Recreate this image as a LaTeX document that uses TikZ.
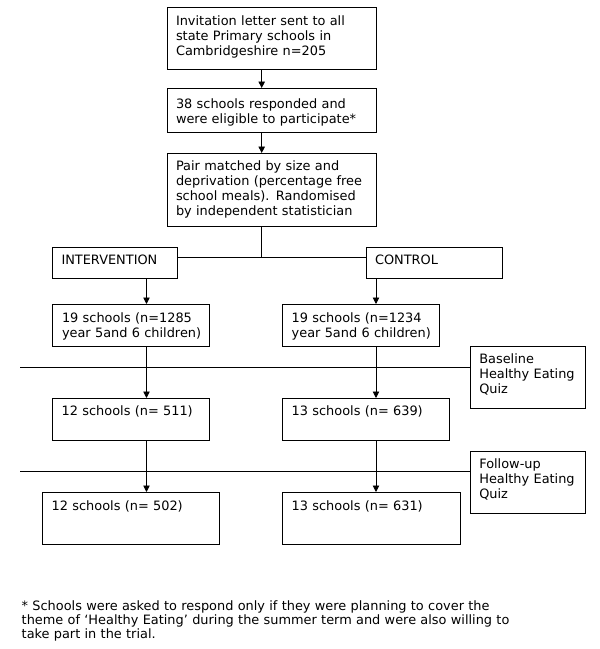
\documentclass[tikz,border=0pt]{standalone}
\usepackage{fontspec}
\setmainfont{DejaVu Sans}
\usetikzlibrary{arrows.meta}
\begin{document}
\begin{tikzpicture}[x=1pt,y=-1pt,
  box/.style={draw=black,line width=0.9pt,inner sep=0pt,outer sep=0pt,anchor=north west,rectangle},
  txt/.style={inner sep=0pt,outer sep=0pt,anchor=base west,align=left,text width=200pt,font=\fontsize{12.9}{15}\selectfont},
  arr/.style={line width=0.9pt,-{Triangle[length=6.5pt,width=6.5pt]}},
  ln/.style={line width=0.9pt}]
\fill[white] (0,0) rectangle (600,649);
\useasboundingbox (0,0) rectangle (600,649);
% boxes
\node[box,minimum width=209pt,minimum height=62pt] (b1) at (167,7) {};
\node[box,minimum width=209pt,minimum height=44pt] (b2) at (167,88) {};
\node[box,minimum width=209pt,minimum height=73pt] (b3) at (167,153) {};
\node[box,minimum width=125pt,minimum height=31pt] (int) at (52,247) {};
\node[box,minimum width=136pt,minimum height=31pt] (ctl) at (366,247) {};
\node[box,minimum width=157pt,minimum height=42pt] (l19) at (52,304) {};
\node[box,minimum width=157pt,minimum height=42pt] (r19) at (282,304) {};
\node[box,minimum width=115pt,minimum height=62pt] (base) at (470,346) {};
\node[box,minimum width=157pt,minimum height=42pt] (l12) at (52,398) {};
\node[box,minimum width=167pt,minimum height=42pt] (r13) at (282,398) {};
\node[box,minimum width=115pt,minimum height=62pt] (fu) at (470,451) {};
\node[box,minimum width=177pt,minimum height=52pt] (l12b) at (42,492) {};
\node[box,minimum width=178pt,minimum height=52pt] (r13b) at (282,492) {};
% texts
\node[txt] (t1) at ([xshift=9pt,yshift=-18pt]b1.north west) {Invitation letter sent to all\\state Primary schools in\\Cambridgeshire n=205};
\node[txt] (t2) at ([xshift=9pt,yshift=-20.5pt]b2.north west) {38 schools responded and\\were eligible to participate*};
\node[txt] (t3) at ([xshift=9pt,yshift=-17.7pt]b3.north west) {Pair matched by size and\\deprivation (percentage free\\school meals). Randomised\\by independent statistician};
\node[txt] (tint) at ([xshift=9.5pt,yshift=-17.3pt]int.north west) {INTERVENTION};
\node[txt] (tctl) at ([xshift=9pt,yshift=-17.3pt]ctl.north west) {CONTROL};
\node[txt] (tl19) at ([xshift=10pt,yshift=-18pt]l19.north west) {19 schools (n=1285\\year 5and 6 children)};
\node[txt] (tr19) at ([xshift=9.7pt,yshift=-18pt]r19.north west) {19 schools (n=1234\\year 5and 6 children)};
\node[txt] (tbase) at ([xshift=9.3pt,yshift=-17.3pt]base.north west) {Baseline\\Healthy Eating\\Quiz};
\node[txt] (tl12) at ([xshift=9.7pt,yshift=-17.7pt]l12.north west) {12 schools (n= 511)};
\node[txt] (tr13) at ([xshift=9.7pt,yshift=-17.7pt]r13.north west) {13 schools (n= 639)};
\node[txt] (tfu) at ([xshift=9.3pt,yshift=-17.3pt]fu.north west) {Follow-up\\Healthy Eating\\Quiz};
\node[txt] (tl12b) at ([xshift=9.7pt,yshift=-18pt]l12b.north west) {12 schools (n= 502)};
\node[txt] (tr13b) at ([xshift=9.7pt,yshift=-18pt]r13b.north west) {13 schools (n= 631)};
\node[txt,text width=560pt,font=\fontsize{12.9}{14.3}\selectfont] (foot) at (21.7,610) {* Schools were asked to respond only if they were planning to cover the\\theme of ‘Healthy Eating’ during the summer term and were also willing to\\take part in the trial.};
% coordinates
\coordinate (mx) at (261.7,0);
\coordinate (lx) at (146.5,0);
\coordinate (rx) at (376,0);
\coordinate (split) at (261.7,257.7);
\coordinate (bl) at (20,367);
\coordinate (fl) at (20,471.3);
% connectors
\draw[arr] (b1.south -| mx) -- (b2.north -| mx);
\draw[arr] (b2.south -| mx) -- (b3.north -| mx);
\draw[ln] (b3.south -| mx) -- (split);
\draw[ln] (int.east |- split) -- (ctl.west |- split);
\draw[arr] (int.south -| lx) -- (l19.north -| lx);
\draw[arr] (ctl.south -| rx) -- (r19.north -| rx);
\draw[arr] (l19.south -| lx) -- (l12.north -| lx);
\draw[arr] (r19.south -| rx) -- (r13.north -| rx);
\draw[ln] (bl) -- (base.west |- bl);
\draw[arr] (l12.south -| lx) -- (l12b.north -| lx);
\draw[arr] (r13.south -| rx) -- (r13b.north -| rx);
\draw[ln] (fl) -- (fu.west |- fl);
\end{tikzpicture}
\end{document}
